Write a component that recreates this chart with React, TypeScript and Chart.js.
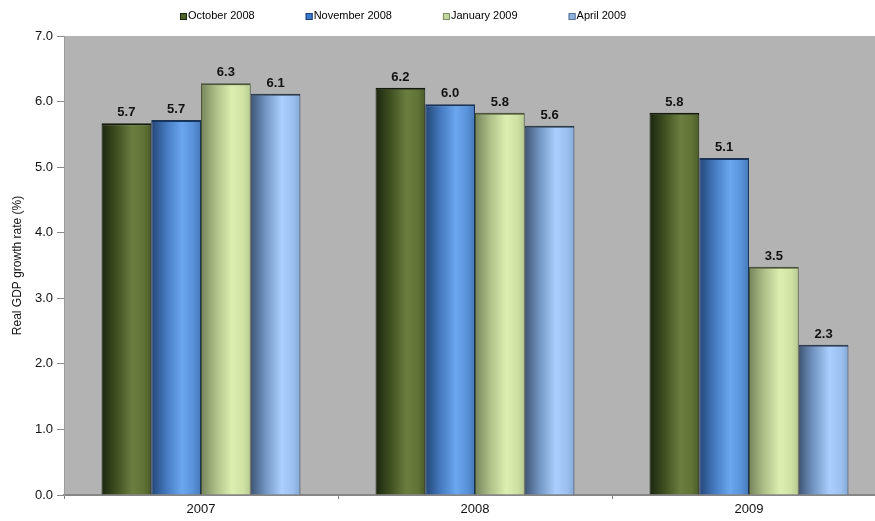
import React, { useEffect, useRef } from "react";
import { Chart, registerables } from "chart.js";

Chart.register(...registerables);

const categories = ["2007", "2008", "2009"];
const seriesLabels = ["October 2008", "November 2008", "January 2009", "April 2009"];
const october2008 = [5.67, 6.21, 5.83];
const november2008 = [5.72, 5.96, 5.14];
const january2009 = [6.28, 5.83, 3.48];
const april2009 = [6.12, 5.63, 2.29];
const yMin = 0;
const yMax = 7;
const yStep = 1;
const yTitle = "Real GDP growth rate (%)";

const FONT = '"Liberation Sans", Arial, Helvetica, sans-serif';

const GRADIENTS: [number, string][][] = [
  [[0, "#1b2510"], [0.3, "#3f5020"], [0.62, "#6a7e40"], [0.85, "#5f7436"], [1, "#4a5c28"]],
  [[0, "#244676"], [0.3, "#4479bf"], [0.62, "#6aa7ef"], [0.85, "#5891d8"], [1, "#4678b8"]],
  [[0, "#76845a"], [0.3, "#aebf88"], [0.62, "#ddeeb0"], [0.85, "#cfe2a4"], [1, "#b7ca90"]],
  [[0, "#3e5574"], [0.3, "#7396c4"], [0.62, "#aacefd"], [0.85, "#9cc0ef"], [1, "#84a8d6"]],
];
const LEGEND_COLORS = ["#4f6228", "#3a79d2", "#c3d69b", "#8db3e2"];
const LEGEND_BORDERS = ["#1c240e", "#1f3f70", "#7d8a62", "#5a7190"];
const BORDER_COLORS = ["#121a08", "#1a3358", "#4a5436", "#2c3c52"];

const bgPlugin = {
  id: "plotBg",
  beforeDraw(chart: any) {
    const { ctx, chartArea } = chart;
    ctx.save();
    ctx.fillStyle = "#b3b3b3";
    ctx.fillRect(chartArea.left, chartArea.top, chartArea.right - chartArea.left, chartArea.bottom - chartArea.top);
    ctx.restore();
  },
};

const gradientPlugin = {
  id: "barGradient",
  afterDatasetsUpdate(chart: any) {
    const ctx = chart.ctx;
    chart.data.datasets.forEach((_ds: any, di: number) => {
      const meta = chart.getDatasetMeta(di);
      const stops = GRADIENTS[di];
      meta.data.forEach((bar: any) => {
        const w = bar.width;
        const x0 = bar.x - w / 2;
        const g = ctx.createLinearGradient(x0, 0, x0 + w, 0);
        stops.forEach(([p, c]) => g.addColorStop(p, c));
        bar.options = Object.assign({}, bar.options, { backgroundColor: g });
      });
    });
  },
};

const labelPlugin = {
  id: "valueLabels",
  afterDatasetsDraw(chart: any) {
    const ctx = chart.ctx;
    ctx.save();
    ctx.font = `bold 13px ${FONT}`;
    ctx.fillStyle = "#111";
    ctx.textAlign = "center";
    ctx.textBaseline = "alphabetic";
    chart.data.datasets.forEach((ds: any, di: number) => {
      const meta = chart.getDatasetMeta(di);
      meta.data.forEach((bar: any, i: number) => {
        ctx.fillText(Number(ds.data[i]).toFixed(1), bar.x, bar.y - 7);
      });
    });
    ctx.restore();
  },
};

const legendPlugin = {
  id: "customLegend",
  afterDraw(chart: any) {
    const ctx = chart.ctx;
    ctx.save();
    ctx.font = `11px ${FONT}`;
    ctx.textBaseline = "middle";
    ctx.textAlign = "left";
    let x = 180;
    const y = 16;
    chart.data.datasets.forEach((ds: any, i: number) => {
      ctx.fillStyle = LEGEND_COLORS[i];
      ctx.fillRect(x, y - 3, 7, 7);
      ctx.strokeStyle = LEGEND_BORDERS[i];
      ctx.lineWidth = 1;
      ctx.strokeRect(x + 0.5, y - 2.5, 6, 6);
      ctx.fillStyle = "#000";
      ctx.fillText(ds.label, x + 8, y);
      x += 8 + ctx.measureText(ds.label).width + 51;
    });
    ctx.restore();
  },
};

export default function App() {
  const ref = useRef<HTMLCanvasElement | null>(null);

  useEffect(() => {
    const canvas = ref.current;
    if (!canvas) return;
    const series = [october2008, november2008, january2009, april2009];
    const chart = new Chart(canvas, {
      type: "bar",
      data: {
        labels: categories,
        datasets: series.map((data, i) => ({
          label: seriesLabels[i],
          data,
          backgroundColor: LEGEND_COLORS[i],
          borderColor: BORDER_COLORS[i],
          borderWidth: { top: 2, left: 1, right: 1, bottom: 0 },
          borderSkipped: false,
          barPercentage: 1,
          categoryPercentage: 0.726,
        })),
      },
      options: {
        responsive: false,
        animation: false,
        devicePixelRatio: 1,
        layout: { padding: { top: 36, right: 4, left: 0, bottom: 0 } },
        plugins: {
          legend: { display: false },
          tooltip: { enabled: false },
        },
        scales: {
          x: {
            grid: {
              display: true,
              drawOnChartArea: false,
              drawTicks: true,
              tickLength: 4,
              color: "#808080",
              offset: true,
            },
            border: { display: true, color: "#868686", width: 2 },
            ticks: {
              color: "#111",
              font: { family: FONT, size: 13 },
              padding: 3,
            },
            afterFit(scale: any) {
              scale.height = 26;
            },
          },
          y: {
            min: yMin,
            max: yMax,
            ticks: {
              stepSize: yStep,
              color: "#111",
              font: { family: FONT, size: 13 },
              padding: 4,
              callback: (v: any) => Number(v).toFixed(1),
            },
            grid: {
              display: true,
              drawOnChartArea: false,
              drawTicks: true,
              tickLength: 7,
              color: "#8a8a8a",
            },
            border: { display: true, color: "#9c9c9c", width: 1 },
            title: {
              display: true,
              text: yTitle,
              color: "#111",
              font: { family: FONT, size: 12 },
              padding: { top: 10, bottom: 0 },
            },
            afterFit(scale: any) {
              scale.width = 64;
            },
          },
        },
      },
      plugins: [bgPlugin, gradientPlugin, labelPlugin, legendPlugin],
    } as any);
    return () => chart.destroy();
  }, []);

  return (
    <div style={{ position: "fixed", left: 0, top: 0, width: 890, height: 521, overflow: "hidden", background: "#fff" }}>
      <canvas ref={ref} width={890} height={521} style={{ display: "block", width: 890, height: 521 }} />
    </div>
  );
}
